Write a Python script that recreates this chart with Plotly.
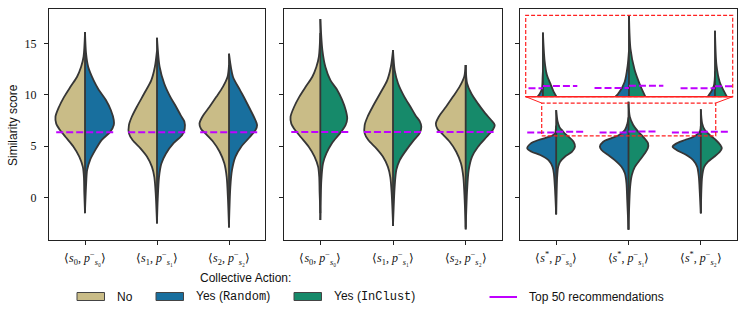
import plotly.graph_objects as go

W, H = 747, 319

# ---------------- data ----------------
categories = [0, 1, 2]
labels_si = ["⟨<i>s</i><sub>0</sub>, <i>p</i><sup>−</sup><sub><i>s</i>₀</sub>⟩",
             "⟨<i>s</i><sub>1</sub>, <i>p</i><sup>−</sup><sub><i>s</i>₁</sub>⟩",
             "⟨<i>s</i><sub>2</sub>, <i>p</i><sup>−</sup><sub><i>s</i>₂</sub>⟩"]
labels_star = ["⟨<i>s</i><sup>*</sup>, <i>p</i><sup>−</sup><sub><i>s</i>₀</sub>⟩",
               "⟨<i>s</i><sup>*</sup>, <i>p</i><sup>−</sup><sub><i>s</i>₁</sub>⟩",
               "⟨<i>s</i><sup>*</sup>, <i>p</i><sup>−</sup><sub><i>s</i>₂</sub>⟩"]
y_ticks = [0, 5, 10, 15]

# density profiles: similarity score levels and half-widths (category units)
no0_y = [-1.5, 0.5, 2.0, 3.0, 4.0, 4.96, 5.9, 6.6, 7.2, 7.87, 8.84, 9.8, 10.8, 11.76, 12.7, 13.7, 16.0]
no0_w = [0, 0.01, 0.015, 0.03, 0.08, 0.16, 0.27, 0.35, 0.40, 0.41, 0.36, 0.29, 0.20, 0.11, 0.055, 0.02, 0]
no1_y = [-2.5, 0.4, 2.0, 3.0, 4.0, 4.8, 5.6, 6.25, 7.06, 7.87, 8.84, 10.1, 11.4, 12.7, 14.3]
no1_w = [0, 0.018, 0.037, 0.07, 0.14, 0.23, 0.34, 0.39, 0.39, 0.35, 0.28, 0.18, 0.08, 0.03, 0]
no2_y = [-2.9, -0.2, 2.0, 3.34, 4.47, 5.44, 6.25, 6.7, 7.2, 7.87, 8.84, 9.8, 10.8, 11.76, 12.9]
no2_w = [0, 0.014, 0.032, 0.065, 0.13, 0.22, 0.33, 0.39, 0.41, 0.37, 0.27, 0.176, 0.083, 0.02, 0]

rand0_y = [-1.3, 1.07, 2.7, 3.66, 4.6, 5.6, 6.4, 7.06, 7.55, 8.5, 9.5, 10.5, 11.4, 12.7, 14.0, 16.1]
rand0_w = [0, 0.014, 0.03, 0.07, 0.14, 0.23, 0.35, 0.40, 0.40, 0.36, 0.29, 0.19, 0.12, 0.045, 0.015, 0]
rand1_y = [-2.3, -0.2, 2.0, 3.3, 4.3, 5.3, 6.1, 6.7, 7.4, 8.0, 8.84, 9.8, 11.1, 12.7, 15.55]
rand1_w = [0, 0.01, 0.028, 0.06, 0.125, 0.23, 0.35, 0.385, 0.38, 0.33, 0.265, 0.185, 0.10, 0.037, 0]
rand2_y = [-2.6, 1.07, 2.7, 4.0, 4.96, 5.9, 6.6, 7.06, 7.55, 8.5, 9.5, 10.5, 11.76, 14.0]
rand2_w = [0, 0.019, 0.042, 0.09, 0.17, 0.29, 0.37, 0.39, 0.366, 0.30, 0.227, 0.15, 0.055, 0]

clust0_y = [-2.17, 1.7, 3.34, 4.3, 5.3, 6.25, 7.06, 7.7, 8.5, 9.5, 10.5, 11.4, 12.7, 14.35, 17.36]
clust0_w = [0, 0.014, 0.037, 0.083, 0.16, 0.27, 0.347, 0.37, 0.35, 0.30, 0.23, 0.14, 0.07, 0.028, 0]
clust1_y = [-2.75, 1.07, 2.7, 3.66, 4.6, 5.6, 6.25, 6.9, 7.4, 8.0, 8.84, 9.8, 11.1, 12.4, 14.35]
clust1_w = [0, 0.023, 0.046, 0.093, 0.18, 0.287, 0.366, 0.39, 0.37, 0.31, 0.24, 0.157, 0.07, 0.023, 0]
clust2_y = [-3.08, 0.75, 2.7, 4.0, 4.96, 5.9, 6.6, 7.06, 7.55, 8.2, 9.17, 10.1, 11.1, 12.9]
clust2_w = [0, 0.02, 0.042, 0.088, 0.17, 0.287, 0.375, 0.40, 0.35, 0.27, 0.167, 0.08, 0.02, 0]

# panel 3 (s*)
rand_star0_y = [-1.62, 1.07, 2.37, 3.0, 3.66, 4.15, 4.47, 4.8, 5.28, 5.61, 5.93, 6.1, 6.3, 6.8, 7.0]
rand_star0_w = [0, 0.018, 0.032, 0.05, 0.106, 0.22, 0.34, 0.40, 0.35, 0.244, 0.09, 0.04, 0.012, 0.003, 0]
rand_star1_y = [-3.1, -0.2, 1.4, 2.37, 3.0, 3.66, 4.15, 4.64, 4.96, 5.44, 5.77, 6.09, 6.58, 7.22, 7.8]
rand_star1_w = [0, 0.018, 0.028, 0.05, 0.097, 0.19, 0.28, 0.373, 0.396, 0.35, 0.24, 0.13, 0.05, 0.015, 0]
rand_star2_y = [-1.52, 0.42, 2.04, 3.0, 3.66, 4.15, 4.64, 4.96, 5.28, 5.61, 5.93, 6.42, 7.0]
rand_star2_w = [0, 0.014, 0.028, 0.05, 0.106, 0.2, 0.336, 0.39, 0.336, 0.22, 0.1, 0.014, 0]

clust_star0_y = [-1.62, 2.04, 3.0, 3.5, 3.98, 4.47, 4.96, 5.44, 5.93, 6.2, 6.46, 6.86, 7.4, 8.52]
clust_star0_w = [0, 0.014, 0.028, 0.055, 0.12, 0.22, 0.26, 0.24, 0.17, 0.124, 0.093, 0.046, 0.02, 0]
clust_star1_y = [-3.1, 1.07, 2.2, 3.0, 3.66, 4.31, 4.8, 5.28, 5.93, 6.42, 7.07, 7.88, 9.33]
clust_star1_w = [0, 0.023, 0.046, 0.088, 0.157, 0.226, 0.267, 0.27, 0.2, 0.134, 0.065, 0.018, 0]
clust_star2_y = [-1.52, 2.04, 3.0, 3.5, 3.98, 4.47, 4.8, 5.12, 5.61, 6.09, 6.58, 7.22, 8.59]
clust_star2_w = [0, 0.018, 0.046, 0.1, 0.184, 0.263, 0.29, 0.27, 0.207, 0.124, 0.055, 0.018, 0]

# "Top 50 recommendations" levels
top50_panel1 = [6.36, 6.36, 6.36]
top50_panel2 = [6.38, 6.38, 6.38]
top50_panel3_rand = [6.33, 6.34, 6.33]
top50_panel3_clust = [6.42, 6.43, 6.41]

# ---------------- styling ----------------
C_NO = "#c9bc87"
C_RAND = "#186f9e"
C_CLUST = "#168a6a"
C_EDGE = "#363636"
C_TOP = "#bf00ff"
SANS = "Liberation Sans"
SERIF = "Liberation Serif"

Y_RANGE = [-4.11, 18.34]
X_RANGE = [-0.5, 2.5]
PANELS = [(49, 265), (284, 502), (520, 737)]
TOP_PX, BOT_PX = 9, 240
INSET_PX = (525.7, 15.3, 732.7, 96.7)   # x0, y0(top), x1, y1(bottom)
ZOOM_X = [-0.2, 2.206]
ZOOM_Y = [6.0, 9.2]


def fx(px):
    return px / W


def fy(py):
    return 1 - py / H


fig = go.Figure()


def half(cat, ys, ws, side, color, xa, ya):
    xs = [cat + side * w for w in ws]
    fig.add_trace(go.Scatter(
        x=xs, y=ys, mode="lines", fill="toself", fillcolor=color,
        line=dict(color=C_EDGE, width=1.8, shape="spline", smoothing=0.8),
        xaxis=xa, yaxis=ya, showlegend=False, hoverinfo="skip"))


def center_line(cat, lo, hi, xa, ya):
    fig.add_trace(go.Scatter(
        x=[cat, cat], y=[lo, hi], mode="lines",
        line=dict(color=C_EDGE, width=1.8),
        xaxis=xa, yaxis=ya, showlegend=False, hoverinfo="skip"))


def top_line(x0, x1, y, xa, ya):
    fig.add_trace(go.Scatter(
        x=[x0, x1], y=[y, y], mode="lines",
        line=dict(color=C_TOP, width=2, dash="7px,3px"),
        xaxis=xa, yaxis=ya, showlegend=False, hoverinfo="skip"))


left_sets = [(no0_y, no0_w), (no1_y, no1_w), (no2_y, no2_w)]
rand_sets = [(rand0_y, rand0_w), (rand1_y, rand1_w), (rand2_y, rand2_w)]
clust_sets = [(clust0_y, clust0_w), (clust1_y, clust1_w), (clust2_y, clust2_w)]
rstar_sets = [(rand_star0_y, rand_star0_w), (rand_star1_y, rand_star1_w), (rand_star2_y, rand_star2_w)]
cstar_sets = [(clust_star0_y, clust_star0_w), (clust_star1_y, clust_star1_w), (clust_star2_y, clust_star2_w)]

# panel 1: No vs Random
for c, (ly, lw), (ry, rw) in zip(categories, left_sets, rand_sets):
    half(c, ly, lw, -1, C_NO, "x", "y")
    half(c, ry, rw, 1, C_RAND, "x", "y")
    center_line(c, min(ly[0], ry[0]), max(ly[-1], ry[-1]), "x", "y")
for c, v in zip(categories, top50_panel1):
    top_line(c - 0.4, c + 0.4, v, "x", "y")

# panel 2: No vs InClust
for c, (ly, lw), (ry, rw) in zip(categories, left_sets, clust_sets):
    half(c, ly, lw, -1, C_NO, "x2", "y2")
    half(c, ry, rw, 1, C_CLUST, "x2", "y2")
    center_line(c, min(ly[0], ry[0]), max(ly[-1], ry[-1]), "x2", "y2")
for c, v in zip(categories, top50_panel2):
    top_line(c - 0.4, c + 0.4, v, "x2", "y2")

# panel 3 and its inset: Random vs InClust for s*
for xa, ya in [("x3", "y3"), ("x4", "y4")]:
    for c, (ly, lw), (ry, rw) in zip(categories, rstar_sets, cstar_sets):
        half(c, ly, lw, -1, C_RAND, xa, ya)
        half(c, ry, rw, 1, C_CLUST, xa, ya)
        center_line(c, min(ly[0], ry[0]), max(ly[-1], ry[-1]), xa, ya)
    for c, vl, vr in zip(categories, top50_panel3_rand, top50_panel3_clust):
        top_line(c - 0.4, c, vl, xa, ya)
        top_line(c, c + 0.4, vr, xa, ya)

# ---------------- axes ----------------
ydom = [fy(BOT_PX), fy(TOP_PX)]
common_x = dict(range=X_RANGE, tickvals=categories, showgrid=False, zeroline=False,
                showline=True, mirror=True, linecolor="#222", linewidth=1,
                ticks="outside", ticklen=4, tickwidth=1, tickcolor="#222", automargin=False,
                tickfont=dict(family=SERIF, size=12, color="#111"), ticklabelstandoff=3)
common_y = dict(range=Y_RANGE, tickvals=y_ticks, showgrid=False, zeroline=False,
                showline=True, mirror=True, linecolor="#222", linewidth=1, automargin=False,
                ticks="outside", ticklen=4, tickwidth=1, tickcolor="#222",
                tickfont=dict(family=SERIF, size=12, color="#111"), domain=ydom)

layout = dict(width=W, height=H, margin=dict(l=0, r=0, t=0, b=0, autoexpand=False),
              paper_bgcolor="white", plot_bgcolor="white", showlegend=False)
for i, (p0, p1) in enumerate(PANELS):
    sx = "" if i == 0 else str(i + 1)
    layout["xaxis" + sx] = dict(common_x, domain=[fx(p0), fx(p1)], anchor="y" + sx,
                                ticktext=labels_star if i == 2 else labels_si)
    layout["yaxis" + sx] = dict(common_y, anchor="x" + sx, showticklabels=(i == 0),
                                ticklabelstandoff=5)
layout["xaxis4"] = dict(domain=[fx(INSET_PX[0]), fx(INSET_PX[2])], range=ZOOM_X, anchor="y4",
                        visible=False, showgrid=False, zeroline=False, automargin=False)
layout["yaxis4"] = dict(domain=[fy(INSET_PX[3]), fy(INSET_PX[1])], range=ZOOM_Y, anchor="x4",
                        visible=False, showgrid=False, zeroline=False, automargin=False)
fig.update_layout(**layout)

# ---------------- inset indicators ----------------
p3x0, p3x1 = PANELS[2]


def x3_to_px(v):
    return p3x0 + (v - X_RANGE[0]) / (X_RANGE[1] - X_RANGE[0]) * (p3x1 - p3x0)


def y_to_px(v):
    return BOT_PX - (v - Y_RANGE[0]) / (Y_RANGE[1] - Y_RANGE[0]) * (BOT_PX - TOP_PX)


RED = "#ff2020"
shapes = []
shapes.append(dict(type="rect", xref="x3", yref="y3", x0=ZOOM_X[0], x1=ZOOM_X[1],
                   y0=ZOOM_Y[0], y1=ZOOM_Y[1], line=dict(color=RED, width=1.2, dash="4px,2px")))
ix0, iy0, ix1, iy1 = INSET_PX
shapes.append(dict(type="rect", xref="paper", yref="paper", x0=fx(ix0), x1=fx(ix1),
                   y0=fy(iy1), y1=fy(iy0), line=dict(color=RED, width=1.2, dash="4px,2px")))
shapes.append(dict(type="line", xref="paper", yref="paper", x0=fx(ix0), x1=fx(ix1),
                   y0=fy(iy1), y1=fy(iy1), line=dict(color=RED, width=1.5)))
sx0, sx1, sy1 = x3_to_px(ZOOM_X[0]), x3_to_px(ZOOM_X[1]), y_to_px(ZOOM_Y[1])
shapes.append(dict(type="line", xref="paper", yref="paper", x0=fx(ix0), y0=fy(iy1),
                   x1=fx(sx0), y1=fy(sy1), line=dict(color=RED, width=1)))
shapes.append(dict(type="line", xref="paper", yref="paper", x0=fx(ix1), y0=fy(iy1),
                   x1=fx(sx1), y1=fy(sy1), line=dict(color=RED, width=1)))

# ---------------- legend (manual) ----------------
annotations = []
annotations.append(dict(text="Similarity score", x=fx(13), y=fy(125), xref="paper", yref="paper",
                        textangle=-90, showarrow=False, font=dict(family=SANS, size=12, color="#111"),
                        xanchor="center", yanchor="middle"))
annotations.append(dict(text="Collective Action:", x=fx(245), y=fy(278), xref="paper", yref="paper",
                        showarrow=False, font=dict(family=SANS, size=12, color="#111"),
                        xanchor="center", yanchor="middle"))
LEG_Y = 296.5
MONO_SPAN = "<span style='font-family:Liberation Mono'>{}</span>"
patches = [(77, C_NO, "No"),
           (156, C_RAND, "Yes (" + MONO_SPAN.format("Random") + ")"),
           (294, C_CLUST, "Yes (" + MONO_SPAN.format("InClust") + ")")]
for x0, col, txt in patches:
    shapes.append(dict(type="rect", xref="paper", yref="paper", x0=fx(x0), x1=fx(x0 + 27.5),
                       y0=fy(LEG_Y + 4), y1=fy(LEG_Y - 4), fillcolor=col,
                       line=dict(color="#444", width=1)))
    annotations.append(dict(text=txt, x=fx(x0 + 37.5), y=fy(LEG_Y), xref="paper", yref="paper",
                            showarrow=False, font=dict(family=SANS, size=12, color="#111"),
                            xanchor="left", yanchor="middle"))
shapes.append(dict(type="line", xref="paper", yref="paper", x0=fx(489.5), x1=fx(517),
                   y0=fy(LEG_Y + 0.5), y1=fy(LEG_Y + 0.5), line=dict(color=C_TOP, width=2)))
annotations.append(dict(text="Top 50 recommendations", x=fx(527), y=fy(LEG_Y), xref="paper", yref="paper",
                        showarrow=False, font=dict(family=SANS, size=12, color="#111"),
                        xanchor="left", yanchor="middle"))

fig.update_layout(shapes=shapes, annotations=annotations)
fig.write_html("out.html", config={"displayModeBar": False},
               post_script="document.body.style.margin='0px';document.body.style.padding='0px';")
